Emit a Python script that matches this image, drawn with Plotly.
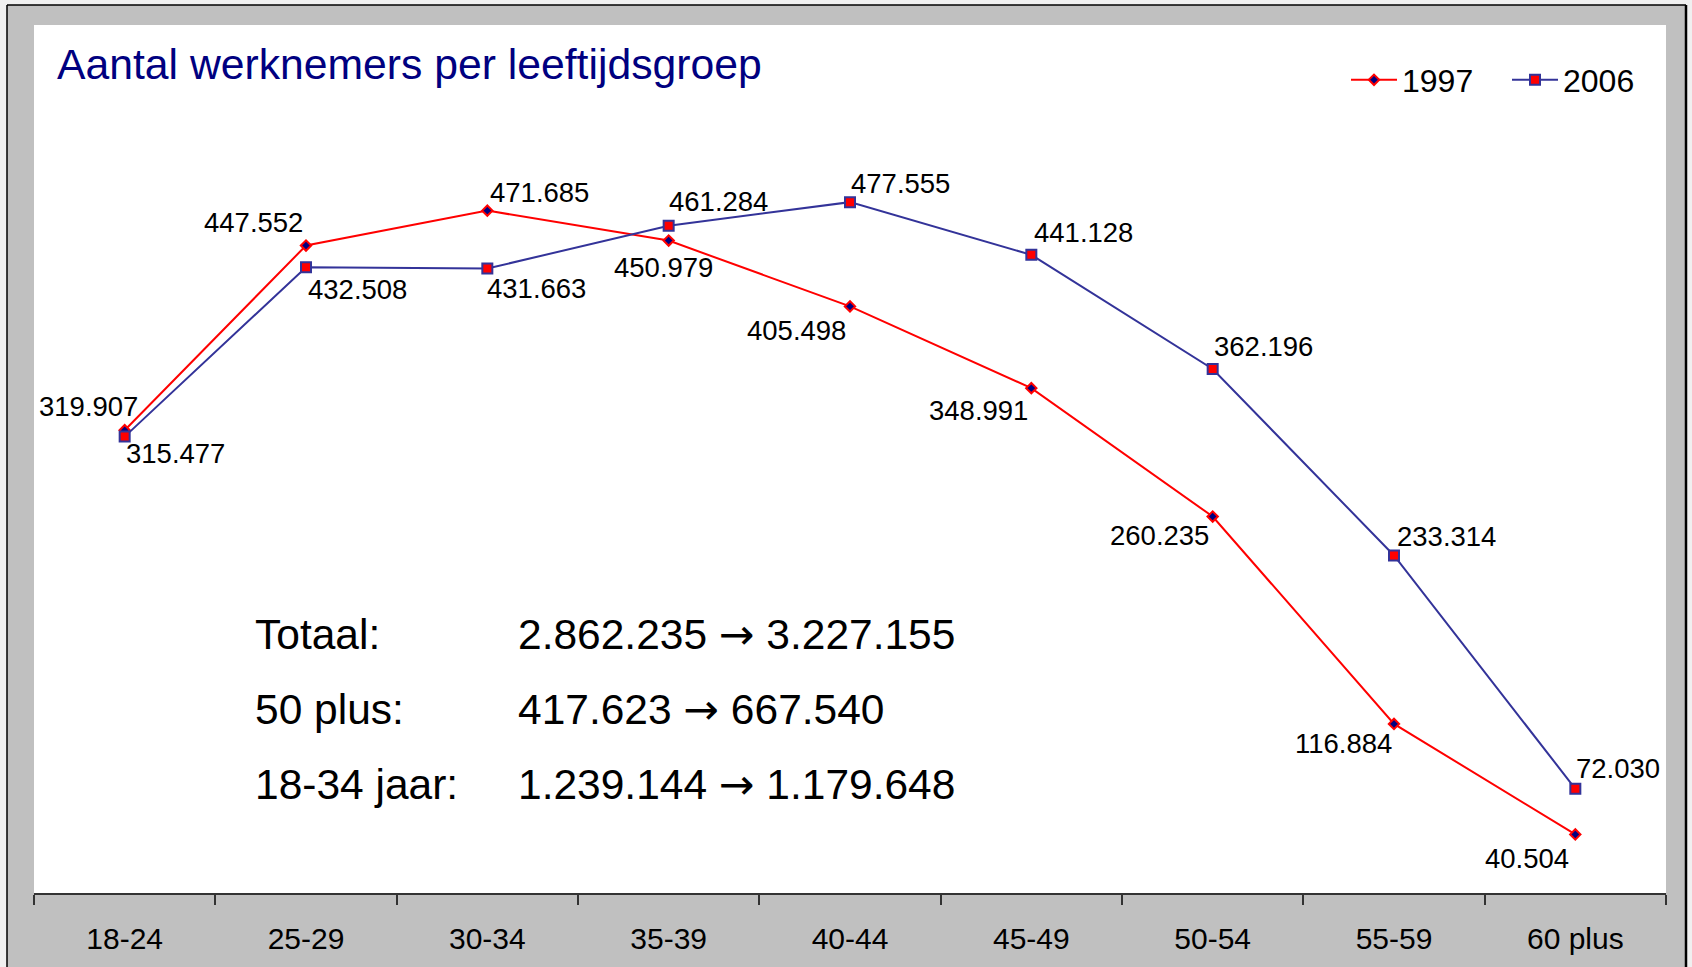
import plotly.graph_objects as go

# data
categories = ['18-24', '25-29', '30-34', '35-39', '40-44', '45-49', '50-54', '55-59', '60 plus']
werknemers_1997 = [319907, 447552, 471685, 450979, 405498, 348991, 260235, 116884, 40504]
werknemers_2006 = [315477, 432508, 431663, 461284, 477555, 441128, 362196, 233314, 72030]

summary_labels = ['Totaal:', '50 plus:', '18-34 jaar:']
summary_from = ['2.862.235', '417.623', '1.239.144']
summary_to = ['3.227.155', '667.540', '1.179.648']

# label offsets in px (xshift, yshift) per point
offsets_1997 = [(-36, 24), (-53, 23), (52, 18), (-5, -27), (-54, -24),
                (-53, -22), (-53, -19), (-51, -20), (-48, -24)]
offsets_2006 = [(51, -17), (51, -22), (49, -20), (50, 24), (50, 19),
                (52, 22), (51, 23), (52, 19), (43, 20)]

W, H = 1692, 967
ML, MR, MT, MB = 34, 26, 25, 74
PW, PH = W - ML - MR, H - MT - MB
FONT = 'Liberation Sans, Arial, sans-serif'
RED = '#ff0000'
NAVY = '#000080'
BLUE = '#333399'
ARROW = "<span style='font-family:DejaVu Sans'>→</span>"


def px(x):
    return (x - ML) / PW


def py(y):
    return (H - MB - y) / PH


def nl(v):
    return f'{v:,}'.replace(',', '.')


fig = go.Figure()
fig.add_trace(go.Scatter(
    x=categories, y=werknemers_1997, name='1997', mode='lines+markers',
    line=dict(color=RED, width=2),
    marker=dict(symbol='diamond', size=8, color=NAVY, line=dict(color=RED, width=2)),
))
fig.add_trace(go.Scatter(
    x=categories, y=werknemers_2006, name='2006', mode='lines+markers',
    line=dict(color=BLUE, width=2),
    marker=dict(symbol='square', size=10, color=RED, line=dict(color=BLUE, width=2)),
))

annotations = []
for vals, offs in ((werknemers_1997, offsets_1997), (werknemers_2006, offsets_2006)):
    for c, v, (dx, dy) in zip(categories, vals, offs):
        annotations.append(dict(
            x=c, y=v, text=nl(v), showarrow=False, xanchor='center', yanchor='middle',
            xshift=dx, yshift=dy, font=dict(family=FONT, size=27.5, color='black'),
        ))

annotations.append(dict(
    text='Aantal werknemers per leeftijdsgroep', xref='paper', yref='paper',
    x=px(55), y=py(64), xanchor='left', yanchor='middle', showarrow=False,
    font=dict(family=FONT, size=42.7, color=NAVY),
))
for i, (lab, a, b) in enumerate(zip(summary_labels, summary_from, summary_to)):
    yc = 634 + i * 75
    annotations.append(dict(text=lab, xref='paper', yref='paper', x=px(253), y=py(yc),
                            xanchor='left', yanchor='middle', showarrow=False,
                            font=dict(family=FONT, size=42.5, color='black')))
    annotations.append(dict(text=f'{a} {ARROW} {b}', xref='paper', yref='paper', x=px(516), y=py(yc),
                            xanchor='left', yanchor='middle', showarrow=False,
                            font=dict(family=FONT, size=42.5, color='black')))

# screenshot frame around the slide
shapes = [
    dict(type='rect', xref='paper', yref='paper', x0=px(-10), x1=px(7), y0=py(H + 10), y1=py(-10),
         fillcolor='#f0f0f0', line_width=0, layer='below'),
    dict(type='rect', xref='paper', yref='paper', x0=px(-10), x1=px(W + 10), y0=py(5), y1=py(-10),
         fillcolor='#f0f0f0', line_width=0, layer='below'),
    dict(type='rect', xref='paper', yref='paper', x0=px(1687), x1=px(W + 10), y0=py(H + 10), y1=py(-10),
         fillcolor='#f0f0f0', line_width=0, layer='below'),
    dict(type='line', xref='paper', yref='paper', x0=px(7), x1=px(7), y0=py(5), y1=py(H + 10),
         line=dict(color='black', width=1.5), layer='below'),
    dict(type='line', xref='paper', yref='paper', x0=px(7), x1=px(1686), y0=py(5), y1=py(5),
         line=dict(color='black', width=1.5), layer='below'),
    dict(type='line', xref='paper', yref='paper', x0=px(1686), x1=px(1686), y0=py(5), y1=py(H + 10),
         line=dict(color='black', width=2.5), layer='below'),
]

fig.update_layout(
    width=W, height=H,
    margin=dict(l=ML, r=MR, t=MT, b=MB, pad=0),
    paper_bgcolor='#c0c0c0',
    plot_bgcolor='white',
    font=dict(family=FONT, color='black'),
    showlegend=True,
    legend=dict(
        orientation='h', xanchor='left', yanchor='middle',
        x=px(1346), y=py(80),
        font=dict(family=FONT, size=32, color='black'),
        bgcolor='rgba(0,0,0,0)',
        itemwidth=46,
        entrywidth=100,
        itemclick=False,
    ),
    xaxis=dict(
        type='category', range=[-0.5, 8.5],
        showline=True, linecolor='#333333', linewidth=1.5,
        ticks='outside', tickson='boundaries', ticklen=10, tickcolor='#333333', tickwidth=1.5,
        ticklabelstandoff=18,
        tickfont=dict(family=FONT, size=30, color='black'),
        showgrid=False, zeroline=False, fixedrange=True,
    ),
    yaxis=dict(
        range=[0, 600000], visible=False, showgrid=False, zeroline=False, fixedrange=True,
    ),
    annotations=annotations,
    shapes=shapes,
)

fig.write_html('out.html', config={'displayModeBar': False},
               post_script="document.body.style.margin='0';")
